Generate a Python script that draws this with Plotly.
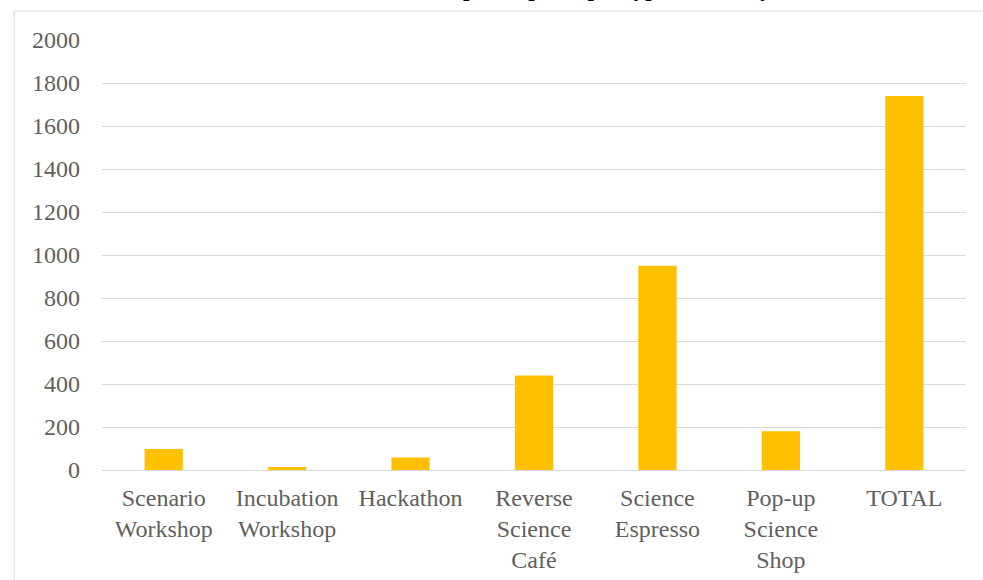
import plotly.graph_objects as go

# Participants per activity type
categories = [
    "Scenario<br>Workshop",
    "Incubation<br>Workshop",
    "Hackathon",
    "Reverse<br>Science<br>Café",
    "Science<br>Espresso",
    "Pop-up<br>Science<br>Shop",
    "TOTAL",
]
participants = [98, 14, 58, 440, 950, 180, 1740]
y_ticks = [0, 200, 400, 600, 800, 1000, 1200, 1400, 1600, 1800, 2000]

title_text = "Number of participants per type of activity"

W, H = 983, 580
M_L, M_R, M_T, M_B = 102, 17, 40, 110
plot_w = W - M_L - M_R
plot_h = H - M_T - M_B


def px_x(x):
    return (x - M_L) / plot_w


def px_y(y):
    return (H - M_B - y) / plot_h


fig = go.Figure(
    go.Bar(
        x=categories,
        y=participants,
        marker=dict(color="#FFC000", line=dict(width=0)),
        hoverinfo="x+y",
    )
)

label_font = dict(family="Liberation Serif", size=24, color="#5F5F5F")

fig.update_layout(
    width=W,
    height=H,
    margin=dict(l=M_L, r=M_R, t=M_T, b=M_B, autoexpand=False),
    paper_bgcolor="white",
    plot_bgcolor="white",
    bargap=0.69,
    showlegend=False,
    xaxis=dict(
        tickfont=label_font,
        tickangle=0,
        automargin=False,
        showgrid=False,
        showline=False,
        ticks="",
        ticklabelstandoff=11,
        fixedrange=True,
    ),
    yaxis=dict(
        range=[0, 2000],
        tickvals=y_ticks,
        ticktext=[str(v) for v in y_ticks],
        tickfont=label_font,
        automargin=False,
        showgrid=True,
        gridcolor="#D9D9D9",
        gridwidth=1.3,
        zeroline=True,
        zerolinecolor="#D9D9D9",
        zerolinewidth=1.3,
        showline=False,
        ticks="",
        ticklabelstandoff=21,
        fixedrange=True,
    ),
    shapes=[
        dict(
            type="rect",
            xref="paper",
            yref="paper",
            x0=px_x(14),
            x1=px_x(W + 20),
            y0=px_y(H + 20),
            y1=px_y(11),
            line=dict(color="#D9D9D9", width=1),
            fillcolor="rgba(0,0,0,0)",
            layer="below",
        )
    ],
    annotations=[
        dict(
            text=title_text,
            xref="paper",
            yref="paper",
            x=px_x(349),
            y=px_y(3.5),
            xanchor="left",
            yanchor="bottom",
            showarrow=False,
            font=dict(family="Liberation Serif", size=23, color="#000000", weight="bold"),
        )
    ],
)

fig.write_html("out.html")
